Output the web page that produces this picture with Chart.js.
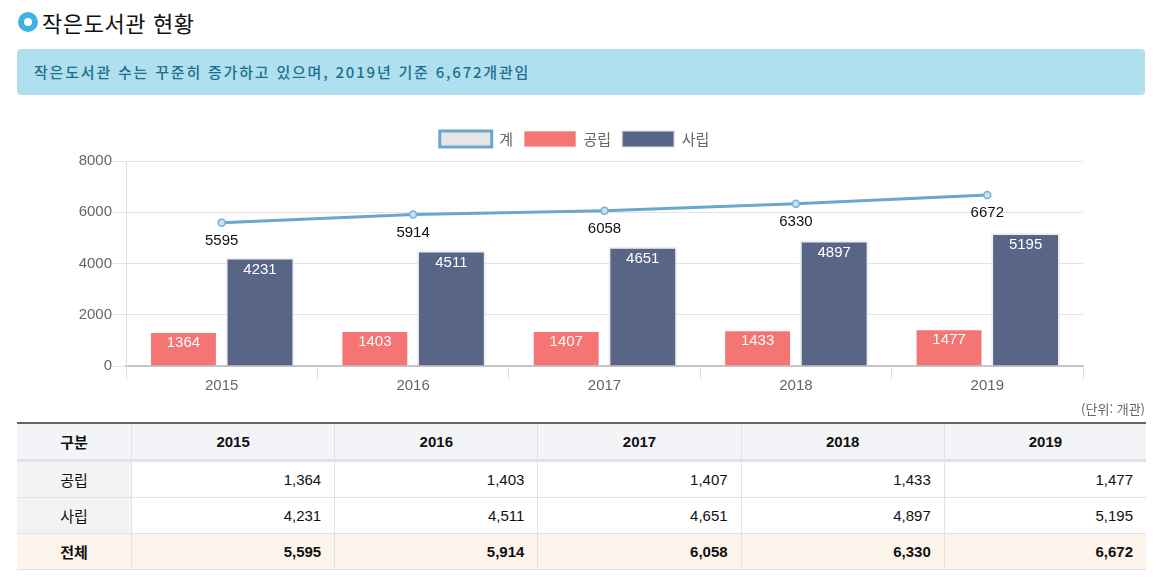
<!DOCTYPE html>
<html lang="ko">
<head>
<meta charset="utf-8">
<title>작은도서관 현황</title>
<script src="https://cdn.jsdelivr.net/npm/chart.js@4"></script>
<style>
  body { margin: 0; background: #fff; font-family: "Liberation Sans", "Noto Sans CJK KR", sans-serif; }
  .title { position: absolute; left: 18px; top: 8px; height: 28px; display: flex; align-items: center; }
  .title .dot { width: 8px; height: 8px; border: 6px solid #41b1e5; border-radius: 50%; margin-right: 4px; }
  .title span { font-family: "Noto Sans CJK KR", sans-serif; font-size: 22px; color: #111; letter-spacing: 0.6px; }
  .info { position: absolute; left: 17px; top: 49px; width: 1128px; height: 46px; background: #b0e0ef;
          border-radius: 4px; box-sizing: border-box; padding-left: 17px; line-height: 46px;
          font-family: "Noto Sans CJK KR", sans-serif; font-size: 15px; color: #1c6f8e; font-weight: 500; letter-spacing: 1.8px; }
  #chartBox { position: absolute; left: 0; top: 120px; width: 1149px; height: 280px; }
  .unit { position: absolute; right: 17px; top: 399px; font-family: "Noto Sans CJK KR", sans-serif; font-size: 13px; color: #666; }
  table { position: absolute; left: 17px; top: 422px; width: 1129px; border-collapse: collapse;
          border-top: 2px solid #666; font-size: 15px; color: #111; font-family: "Liberation Sans", "Noto Sans CJK KR", sans-serif; }
  th, td { border: 1px solid #e2e2e2; height: 35px; padding: 0 13px; }
  th { background: #f3f4f8; font-weight: bold; text-align: center; border-bottom: 3px solid #e2e2e6; height: 35px; }
  td { text-align: right; }
  td.head { text-align: center; background: #f3f3f3; font-family: "Noto Sans CJK KR", sans-serif; width: 88px; }
  tr.total td { background: #fdf4ec; font-weight: bold; }
  tr.total td.head { background: #fdf4ec; }
  th:first-child, td:first-child { border-left: none; }
  th:last-child, td:last-child { border-right: none; }
</style>
</head>
<body>
<div class="title"><div class="dot"></div><span>작은도서관 현황</span></div>
<div class="info">작은도서관 수는 꾸준히 증가하고 있으며, 2019년 기준 6,672개관임</div>
<div id="chartBox"><canvas id="libraryChart"></canvas></div>
<div class="unit">(단위: 개관)</div>
<table id="dataTable">
  <thead><tr id="headRow"><th>구분</th></tr></thead>
  <tbody></tbody>
</table>
<script>
const years = ["2015", "2016", "2017", "2018", "2019"];
const publicLibs = [1364, 1403, 1407, 1433, 1477];
const privateLibs = [4231, 4511, 4651, 4897, 5195];
const totalLibs = [5595, 5914, 6058, 6330, 6672];
const yTicks = [0, 2000, 4000, 6000, 8000];

// labels on points and bars
const valueLabels = {
    id: 'valueLabels',
    afterDatasetsDraw(chart) {
        const ctx = chart.ctx;
        ctx.save();
        ctx.font = '15px "Liberation Sans", Arial, sans-serif';
        ctx.textAlign = 'center';
        ctx.textBaseline = 'middle';
        chart.data.datasets.forEach((ds, i) => {
            const meta = chart.getDatasetMeta(i);
            meta.data.forEach((el, j) => {
                if (ds.type === 'line') {
                    ctx.fillStyle = '#111';
                    ctx.fillText(ds.data[j], el.x, el.y + 18);
                } else {
                    ctx.fillStyle = '#fff';
                    ctx.fillText(ds.data[j], el.x, el.y + 12);
                }
            });
        });
        ctx.restore();
    }
};

// a bit of space under the legend
const legendGap = {
    id: 'legendGap',
    beforeInit(chart) {
        const fit = chart.legend.fit;
        chart.legend.fit = function () {
            fit.bind(chart.legend)();
            this.height += 4;
        };
    }
};

new Chart(document.getElementById('libraryChart'), {
    type: 'bar',
    data: {
        labels: years,
        datasets: [
            {
                type: 'line',
                label: '계',
                data: totalLibs,
                order: 0,
                borderColor: '#6aa7cf',
                backgroundColor: '#e6e6e6',
                borderWidth: 3,
                pointRadius: 3.5,
                pointBorderWidth: 1.5,
                pointBackgroundColor: '#cadff0',
                pointBorderColor: '#78afd4',
                tension: 0,
                fill: false
            },
            {
                label: '공립',
                data: publicLibs,
                order: 1,
                backgroundColor: '#f47574',
                borderColor: 'rgba(255,255,255,0.35)',
                borderWidth: 2
            },
            {
                label: '사립',
                data: privateLibs,
                order: 1,
                backgroundColor: '#596587',
                borderColor: 'rgba(225,225,230,0.55)',
                borderWidth: 2
            }
        ]
    },
    options: {
        responsive: true,
        maintainAspectRatio: false,
        animation: false,
        layout: { padding: 0 },
        plugins: {
            tooltip: { enabled: false },
            legend: {
                position: 'top',
                labels: {
                    boxWidth: 52,
                    boxHeight: 16,
                    padding: 11,
                    color: '#666',
                    font: { size: 15, family: '"Noto Sans CJK KR", sans-serif' }
                }
            }
        },
        scales: {
            x: {
                grid: { display: true, drawOnChartArea: false, tickLength: 13, color: '#dcdcdc', offset: true },
                border: { color: '#c4c4c4', width: 2 },
                ticks: { color: '#666', padding: -2, font: { size: 15, family: '"Liberation Sans", Arial, sans-serif' } },
                afterFit(scale) { scale.height = 34; }
            },
            y: {
                min: 0,
                max: 8000,
                afterBuildTicks(scale) { scale.ticks = yTicks.map(v => ({ value: v })); },
                grid: { color: '#e4e4e4', tickLength: 13 },
                border: { color: '#e0e0e0', width: 1 },
                ticks: {
                    color: '#666',
                    padding: 1,
                    font: { size: 15, family: '"Liberation Sans", Arial, sans-serif' },
                    callback: v => String(v)
                },
                afterFit(scale) { scale.width = 126; }
            },
            // empty axis on the right, only keeps the plot narrower than the legend
            yRight: {
                position: 'right',
                display: true,
                min: 0,
                max: 8000,
                grid: { display: false },
                border: { display: false },
                ticks: { display: false },
                afterFit(scale) { scale.width = 66; }
            }
        }
    },
    plugins: [valueLabels, legendGap]
});

function fmt(n) {
    return n.toLocaleString('en-US');
}

function buildTable() {
    const headRow = document.getElementById("headRow");
    years.forEach(y => {
        const th = document.createElement("th");
        th.textContent = y;
        headRow.appendChild(th);
    });
    const tbody = document.querySelector("#dataTable tbody");
    const rows = [["공립", publicLibs, ""], ["사립", privateLibs, ""], ["전체", totalLibs, "total"]];
    rows.forEach(([name, values, cls]) => {
        const tr = document.createElement("tr");
        if (cls) tr.className = cls;
        const headCell = document.createElement("td");
        headCell.className = "head";
        headCell.textContent = name;
        tr.appendChild(headCell);
        values.forEach(v => {
            const td = document.createElement("td");
            td.textContent = fmt(v);
            tr.appendChild(td);
        });
        tbody.appendChild(tr);
    });
}

buildTable();
</script>
</body>
</html>
